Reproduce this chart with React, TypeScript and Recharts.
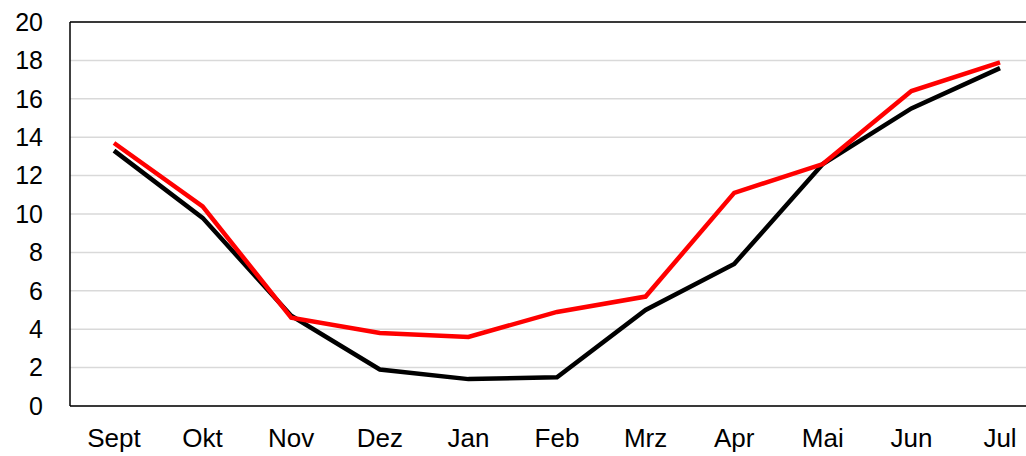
import { LineChart, Line, XAxis, YAxis, CartesianGrid, ReferenceLine } from "recharts";

const months = ["Sept", "Okt", "Nov", "Dez", "Jan", "Feb", "Mrz", "Apr", "Mai", "Jun", "Jul"];
const redSeries = [13.7, 10.4, 4.6, 3.8, 3.6, 4.9, 5.7, 11.1, 12.6, 16.4, 17.9];
const blackSeries = [13.3, 9.8, 4.7, 1.9, 1.4, 1.5, 5.0, 7.4, 12.6, 15.5, 17.6];
const yTicks = [0, 2, 4, 6, 8, 10, 12, 14, 16, 18, 20];

const data = months.map((m, i) => ({ month: m, red: redSeries[i], black: blackSeries[i] }));

export default function App() {
  return (
    <div
      style={{
        position: "fixed",
        left: 0,
        top: 0,
        width: 1026,
        height: 456,
        overflow: "hidden",
        background: "#fff",
        fontFamily: "'Liberation Sans', Arial, sans-serif",
      }}
    >
      <LineChart
        width={1060}
        height={456}
        data={data}
        margin={{ top: 22, right: 16, left: 0, bottom: 0 }}
      >
        <CartesianGrid vertical={false} stroke="#d9d9d9" strokeWidth={1.5} />
        <ReferenceLine y={20} stroke="#000" strokeWidth={1.5} />
        <XAxis
          dataKey="month"
          height={50}
          padding={{ left: 44, right: 44 }}
          tickLine={false}
          tickSize={0}
          tickMargin={23}
          axisLine={{ stroke: "#000", strokeWidth: 1.5 }}
          tick={{ fontSize: 26, fill: "#000" }}
        />
        <YAxis
          width={70}
          domain={[0, 20]}
          ticks={yTicks}
          interval={0}
          tickLine={false}
          tickSize={0}
          tickMargin={27}
          axisLine={{ stroke: "#000", strokeWidth: 1.5 }}
          tick={{ fontSize: 25, fill: "#000" }}
        />
        <Line
          dataKey="black"
          stroke="#000"
          strokeWidth={4.5}
          dot={false}
          isAnimationActive={false}
        />
        <Line
          dataKey="red"
          stroke="#ff0000"
          strokeWidth={4.5}
          dot={false}
          isAnimationActive={false}
        />
      </LineChart>
    </div>
  );
}
